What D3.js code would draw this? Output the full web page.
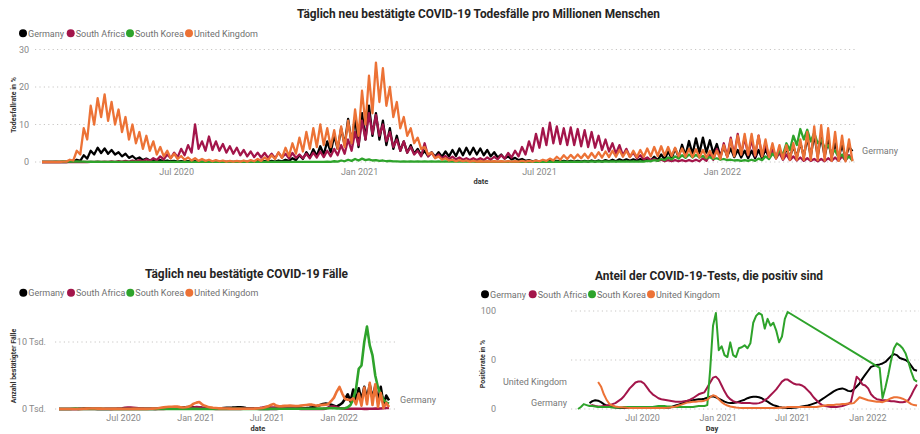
<!DOCTYPE html>
<html><head><meta charset="utf-8">
<script src="https://cdn.jsdelivr.net/npm/d3@7"></script>
<style>body{margin:0;background:#fff}svg{display:block}</style>
</head><body><svg id="c" width="920" height="434"></svg>
<script>
const countries = ["Germany", "South Africa", "South Korea", "United Kingdom"];
const countryColors = ["#000000", "#A3154A", "#2EA32B", "#EC7236"];
const xTickDates = ["2020-07-01", "2021-01-01", "2021-07-01", "2022-01-01"];
const xTickLabels = ["Jul 2020", "Jan 2021", "Jul 2021", "Jan 2022"];

// ---- Chart 1: deaths per million; points every 3.5 days (weekly peak / trough) ----
const deathsTitle = "Täglich neu bestätigte COVID-19 Todesfälle pro Millionen Menschen";
const deathsStart = "2020-02-17";
const deathsGermany = [
0,0, 0,0, 0,0, 0,0, 0.1,0.05, 0.6,0.3, 1.8,0.9, 3,2, 3.8,2.4, 3.6,2.2,
3.2,2, 2.6,1.5, 2.2,1.1, 1.6,0.8, 1.2,0.5, 0.9,0.4, 0.6,0.3, 0.5,0.2, 0.4,0.2, 0.3,0.1,
0.2,0.1, 0.2,0.1, 0.2,0.05, 0.1,0.05, 0.1,0.05, 0.1,0.05, 0.1,0.05, 0.1,0.05, 0.1,0.05, 0.1,0.05,
0.15,0.05, 0.2,0.1, 0.2,0.1, 0.3,0.1, 0.4,0.2, 0.6,0.3, 1,0.5, 1.8,0.8, 2.6,1.2, 3.4,1.6,
4.2,2, 5.5,2.6, 7,3.5, 9,4.5, 11.5,5, 11.8,4, 13,6, 15,7, 13,6, 11,4.5,
9,3.5, 7,3, 5.5,2.5, 4.5,2.2, 3.5,1.8, 3,1.6, 2.6,1.4, 2.6,1.4, 2.8,1.5, 3.2,1.6,
3.6,1.8, 3.8,2, 3.8,2, 3.6,1.8, 3.2,1.5, 2.6,1.2, 2,0.9, 1.5,0.7, 1.1,0.5, 0.8,0.3,
0.5,0.2, 0.4,0.1, 0.3,0.1, 0.3,0.1, 0.3,0.1, 0.3,0.1, 0.3,0.1, 0.3,0.1, 0.3,0.1, 0.4,0.1,
0.4,0.1, 0.5,0.2, 0.6,0.2, 0.7,0.3, 0.7,0.3, 0.7,0.3, 0.8,0.3, 1,0.4, 1.4,0.5, 2,0.7,
2.8,1, 3.6,1.3, 4.6,1.7, 5.6,2.1, 6.3,2.4, 6.5,2.5, 5.8,2.2, 4.8,1.6, 4,1.5, 3.6,1.3,
3.2,1.2, 3,1, 3,1, 3.2,1, 3.5,1.1, 3.6,1.2, 3.4,1.1, 3.6,1.2, 4.2,1.3, 5.2,1.4,
6.5,1.5, 7.4,1.6, 6.8,1.5, 5.8,1.3, 5,1.2, 4.5,1.2, 4,2.9];
const deathsSouthAfrica = [
0,0, 0,0, 0,0, 0,0, 0,0, 0,0, 0.05,0, 0.05,0.02, 0.1,0.05, 0.1,0.05,
0.15,0.05, 0.2,0.1, 0.3,0.1, 0.4,0.2, 0.5,0.2, 0.7,0.3, 1,0.5, 1.5,0.7, 2,1, 2.5,1.3,
3.5,1.8, 4.5,2.5, 10,3.5, 5.5,3, 6.8,3.2, 5.5,3, 4.8,2.5, 4.2,2.2, 3.8,1.8, 3.2,1.5,
2.8,1.3, 2.5,1.2, 2.4,1.1, 2.2,1, 2.5,1.2, 2.2,1, 2.4,1.1, 2,1, 2.2,1, 2.5,1.2,
2.8,1.3, 3,1.5, 3.5,1.8, 4.5,2.2, 6,3, 8,4.5, 11,6, 13,7.5, 12.5,7, 10,5.5,
8,4, 6,3, 5.5,2.5, 4,2, 3,1.5, 5,1.5, 2.5,1.2, 2,1, 1.6,0.8, 1.4,0.7,
1.2,0.6, 1,0.5, 1,0.5, 1,0.5, 1.2,0.6, 1.4,0.7, 1.8,0.9, 2.4,1.2, 3,1.5, 4,2,
5.5,2.8, 7.5,3.8, 9,4.5, 10.5,5, 9.5,4.8, 9,4.5, 9.2,4.5, 8.8,4.2, 8.5,4, 8,3.8,
7,3.2, 6,2.8, 5,2.2, 4.5,1.8, 3.5,1.4, 2.5,1, 1.8,0.7, 1.2,0.5, 0.8,0.3, 0.6,0.2,
0.5,0.2, 0.5,0.2, 0.5,0.2, 0.5,0.2, 0.6,0.2, 1,0.3, 2,0.6, 3.5,1, 5,1.5, 6.5,1.8,
7.5,2, 6.5,1.8, 6,1.5, 7,1.5, 5,1.2, 3.5,0.9, 2.5,0.6, 2,0.5, 1.5,0.4, 1.2,0.3,
1,0.3, 0.8,0.2, 0.8,0.2, 1,0.3, 1.2,0.3, 1.5,0.4, 1.8,0.5];
const deathsSouthKorea = [
0.02,0.01, 0.05,0.02, 0.1,0.05, 0.15,0.08, 0.15,0.08, 0.15,0.08, 0.12,0.06, 0.1,0.05, 0.08,0.04, 0.06,0.03,
0.04,0.02, 0.04,0.02, 0.04,0.02, 0.04,0.02, 0.04,0.02, 0.04,0.02, 0.04,0.02, 0.04,0.02, 0.04,0.02, 0.04,0.02,
0.04,0.02, 0.04,0.02, 0.04,0.02, 0.04,0.02, 0.04,0.02, 0.04,0.02, 0.04,0.02, 0.04,0.02, 0.04,0.02, 0.04,0.02,
0.04,0.02, 0.05,0.02, 0.05,0.03, 0.05,0.03, 0.05,0.03, 0.05,0.03, 0.05,0.03, 0.05,0.03, 0.05,0.03, 0.05,0.03,
0.05,0.03, 0.1,0.05, 0.2,0.1, 0.4,0.2, 0.6,0.3, 0.8,0.4, 0.9,0.5, 0.7,0.4, 0.5,0.3, 0.4,0.2,
0.3,0.15, 0.15,0.08, 0.15,0.08, 0.15,0.08, 0.15,0.08, 0.15,0.08, 0.15,0.08, 0.15,0.08, 0.15,0.08, 0.15,0.08,
0.15,0.08, 0.15,0.08, 0.1,0.05, 0.1,0.05, 0.1,0.05, 0.1,0.05, 0.1,0.05, 0.1,0.05, 0.1,0.05, 0.1,0.05,
0.1,0.05, 0.1,0.05, 0.1,0.05, 0.1,0.05, 0.1,0.05, 0.1,0.05, 0.1,0.05, 0.1,0.05, 0.15,0.08, 0.15,0.08,
0.15,0.08, 0.15,0.08, 0.15,0.08, 0.15,0.08, 0.15,0.08, 0.15,0.08, 0.15,0.08, 0.3,0.2, 0.5,0.3, 0.8,0.5,
1.2,0.7, 1.5,0.9, 1.8,1.1, 2,1.2, 1.9,1.2, 1.6,1, 1.3,0.8, 1,0.6, 0.8,0.5, 0.6,0.4,
0.5,0.3, 0.5,0.3, 0.6,0.3, 0.9,0.5, 1.5,0.8, 2.2,1.2, 3.2,2, 5,3.2, 7,4.5, 8.8,6,
8.6,5.5, 7.8,5, 6,3.8, 4.5,2.5, 3,1.2, 2,0.6, 1.5,0.3];
const deathsUnitedKingdom = [
0,0, 0,0, 0,0, 0.1,0.1, 0.6,0.4, 3,2, 9,6, 15,10, 17,12, 18,11,
16,10, 14,8, 12,6, 10,5, 8,3.5, 7,3, 5.5,2, 4,1.5, 3,1, 2.2,0.8,
1.6,0.6, 1.2,0.4, 1,0.3, 0.8,0.3, 0.6,0.2, 0.5,0.2, 0.4,0.1, 0.3,0.1, 0.3,0.1, 0.4,0.1,
0.5,0.2, 0.8,0.3, 1.2,0.5, 1.8,0.8, 2.6,1.1, 3.8,1.6, 5,2.2, 6.5,2.8, 8,3.5, 9,4,
10,4.5, 9,4, 8.5,3.5, 9.5,4, 11,5, 14,7, 19,10, 23,13, 26.5,16, 25,15,
20,12, 16,9, 12,7, 9,5, 6.5,3.5, 4,2, 2.5,1, 1.5,0.6, 1,0.4, 0.6,0.2,
0.5,0.2, 0.4,0.1, 0.3,0.1, 0.2,0.1, 0.2,0.1, 0.2,0.1, 0.2,0.1, 0.2,0.1, 0.2,0.1, 0.3,0.1,
0.3,0.1, 0.4,0.2, 0.6,0.3, 0.9,0.4, 1.4,0.6, 1.8,0.8, 1.9,0.9, 2,1, 2.2,1, 2.4,1.1,
2.6,1.2, 2.8,1.3, 3,1.4, 3.2,1.4, 3,1.3, 3,1.3, 3.2,1.4, 3.6,1.5, 4,1.6, 4.2,1.7,
4,1.6, 3.8,1.5, 3.6,1.4, 3.5,1.3, 3.4,1.2, 3.2,1.2, 3,1.1, 3,0.8, 4.5,1.2, 6,1.5,
7,2, 7.5,2, 7.5,1.8, 7,1.5, 6,1.3, 5,1, 4.5,0.8, 4.5,0.6, 5,0.6, 6,0.6,
8,0.5, 9.5,0.5, 9.8,0.4, 9,0.3, 8,0.3, 7,0.2, 6,0.2];
const deathsYTicks = [0, 10, 20, 30];
const deathsYTickLabels = ["0", "10", "20", "30"];

// ---- Chart 2: new cases per million, weekly points ----
const casesTitle = "Täglich neu bestätigte COVID-19 Fälle";
const casesStart = "2020-01-20";
const casesGermany = [
0,0,0,0,0,1,3,12,45,65,
70,60,45,30,20,14,10,8,7,6,
5,6,5,5,5,6,7,9,12,14,
16,15,15,17,20,22,30,45,70,120,
180,210,230,220,210,230,270,300,290,250,
240,220,180,150,120,100,90,95,100,110,
140,170,190,200,230,250,240,210,160,120,
80,50,30,15,10,8,9,12,18,22,
30,45,60,80,100,110,110,100,90,100,
130,180,240,330,450,600,750,800,750,650,
500,350,600,900,1500,2200,1100,2900,1300,3100,
1300,3300,1600,3600,1600,3400,1200,3300,700,2000,
1300];
const casesSouthAfrica = [
0,0,0,0,0,0,0,0,1,3,
3,2,2,3,4,6,9,12,15,20,
35,50,80,120,170,200,210,190,150,110,
70,50,40,35,30,25,25,25,25,28,
30,30,35,40,50,60,90,140,180,230,
280,260,200,130,80,50,30,25,22,20,
20,20,20,20,20,20,25,30,40,50,
60,80,120,160,220,300,330,260,220,200,
190,200,180,150,130,100,70,40,25,15,
10,8,6,5,5,6,15,60,250,350,
380,250,150,90,60,50,45,40,40,35,
30,25,25,30,40,50,60,80,120,150,
150];
const casesSouthKorea = [
0,0,0,0,1,40,70,25,8,6,
5,3,2,1,1,1,1,2,2,1,
1,1,1,1,1,1,1,1,1,2,
5,6,5,3,2,2,2,2,2,2,
2,2,3,4,6,9,11,17,20,19,
15,10,9,8,8,8,8,8,8,8,
9,10,10,12,13,13,12,11,11,10,
11,11,10,11,14,20,25,30,32,33,
31,32,35,35,35,35,40,45,50,45,
35,30,30,40,50,60,65,80,110,130,
120,90,75,80,120,250,600,1500,3000,6000,
6500,10000,12300,9500,8000,5000,3200,2200,1400,1000,
800];
const casesUnitedKingdom = [
0,0,0,0,0,0,1,4,12,35,
60,70,72,68,62,52,45,38,30,25,
20,15,12,10,10,10,10,12,13,15,
17,18,25,40,60,80,120,180,240,300,
330,340,370,350,280,230,260,330,500,800,
950,1050,700,480,340,240,180,150,100,90,
80,70,60,45,40,40,35,35,35,40,
45,55,80,110,150,250,400,600,750,500,
420,430,460,480,500,480,440,450,500,550,
600,650,650,550,500,580,620,650,750,1200,
1700,2600,3300,2300,1500,1400,1300,1600,700,2300,
500,3200,700,3900,600,3700,300,2400,150,900,
300];
const casesYTicks = [0, 10000];
const casesYTickLabels = ["0 Tsd.", "10 Tsd."];

// ---- Chart 3: share of positive tests (%), weekly points ----
const positivityTitle = "Anteil der COVID-19-Tests, die positiv sind";
const positivityStart = "2020-01-27";
const positivityGermany = [
null,null,null,null,6,8,9,8.5,7,5,
3.5,2.5,2,1.5,1.2,1,1,1,1,1,
1,1,1,1,1,1,1,1,1,1,
1,1.2,1.5,2.5,3.5,4.5,5.5,6.5,7.5,8.5,
9,9.5,10,10,10.5,11.5,12.5,13,12,10.5,
9,7.5,6.5,6,6,6.5,7.5,8.5,9.5,11,
12,12.5,12.5,12,11,9,7.5,5.5,4,3,
2,1.5,1.2,1,1,1.2,1.5,2,2.5,3,
3.5,4.5,5.5,6.5,8,10,12,14,16,18,
19.5,20.5,21,20,18.5,18,20,23,26,31,
35,39,43,44,45,45.5,46.5,48,51,54,
56,55,52,51,50,48,44,40,39];
const positivitySouthAfrica = [
null,null,null,null,3,4,3,2.5,2.5,3,
3.5,4,5,6,8,10,13,17,21,24,
27,28,28,26,22,18,15,13,11,10,
9.5,9,8.5,8,7.5,7.5,7.5,8,8.5,9.5,
11,13,15,16,17,22,27,32,33,30,
24,18,13,10,8,7,6.5,6,6,6,
6,5.5,5.5,6,7,9,11,14,17,20,
24,28,30,30,28,26,25,25,24,22,
19,16,12,9,6,4,3,2.5,2,2,
2,2.5,3,4,5,7,20,33,30,25,
24,21,15,12,10,9.5,9,9,8.5,8,
8,7.5,7,7,7.5,9,14,20,25];
const positivitySouthKorea = [
0,2,5,4,3,3,2.5,2,2,2,
2,2,1.5,1.5,1.5,1.5,2,2,2,2,
2,2,2,2,2,2,2,2.5,3,3,
3,2.5,2.5,2,2,2,2,2,2,2,
2,2.5,3,3,3,4,40,85,98,60,
64,55,53,68,55,53,62,63,65,62,
67,88,95,98,96,82,92,85,88,80,
68,74,92,99,null,null,null,null,null,null,
null,null,null,null,null,null,null,null,null,null,
null,null,null,null,null,null,null,null,null,null,
null,null,null,null,null,42,11,22,35,50,
62,67,65,62,57,48,38,30,28];
const positivityUnitedKingdom = [
null,null,null,null,null,null,null,27.5,23,15,
9,5,3.5,2.5,2,1.8,1.5,1.2,1,1,
1,1,1,1,1,1,1,1,1,1,
1,1.2,1.5,2,2.5,3.5,4.5,5.5,6.5,7,
7.5,7.5,8,8,8.5,9.5,12,14,13,10,
7,5,3.5,2.5,2,1.5,1.2,1,1,1,
1,1,1,1,1,1,1,1,1,1,
1.2,1.5,1.5,2,2,2,2,2,2,2,
2,2,2,2,2.5,3,3.5,4,4,4,
4.5,4.5,5,5,5.5,5.5,6,9,12,11,
10,9,8.5,8,7.5,7.5,7,8,9.5,11,
12,12,11.5,10.5,9,7,5,4,3.5];
const positivityYTicks = [0, 50, 100];
const positivityYTickLabels = ["0", "0", "100"];

// ------------------------------------------------------------------
const FONT = "Roboto, 'Open Sans', Arial, sans-serif";
const svg = d3.select("#c");
const DAY = 864e5;

function makeSeries(start, values, stepDays) {
  const t0 = new Date(start).getTime();
  return values.map((v, k) => ({ date: new Date(t0 + k * stepDays * DAY), v }))
               .filter(d => d.v !== null);
}

function legend(x0, y) {
  const offsets = [0, 47.7, 107, 166];
  const g = svg.append("g").attr("font-family", FONT).attr("font-size", 9);
  countries.forEach((c, i) => {
    g.append("circle").attr("cx", x0 + offsets[i]).attr("cy", y).attr("r", 4).attr("fill", countryColors[i]);
    g.append("text").attr("x", x0 + offsets[i] + 5).attr("y", y + 3.2).attr("fill", "#707070").text(c);
  });
}

function panel(p) {
  const g = svg.append("g");
  const x = d3.scaleUtc().domain(p.xDomain.map(d => new Date(d))).range(p.xRange);
  const y = d3.scaleLinear().domain(p.yDomain).range(p.yRange);

  g.append("text").attr("x", p.titleX).attr("y", p.titleY).attr("text-anchor", "middle")
    .attr("font-family", FONT).attr("font-weight", 700).attr("font-size", 12).attr("fill", "#252423")
    .attr("textLength", p.titleLen).attr("lengthAdjust", "spacingAndGlyphs").text(p.title);
  legend(p.legendX, p.legendY);

  g.append("g").selectAll("line").data(p.yTicks).join("line")
    .attr("x1", p.gridX[0]).attr("x2", p.gridX[1])
    .attr("y1", d => y(d)).attr("y2", d => y(d))
    .attr("stroke", "#C8C6C4").attr("stroke-width", 1).attr("stroke-dasharray", "1.2,3.2");

  const ya = d3.axisLeft(y).tickValues(p.yTicks).tickFormat((d, i) => p.yTickLabels[i]).tickSize(0).tickPadding(0);
  g.append("g").attr("transform", `translate(${p.yAxisX},0)`).call(ya)
    .attr("font-family", FONT).attr("font-size", 9)
    .call(s => s.select(".domain").remove())
    .selectAll("text").attr("fill", "#888");
  const xa = d3.axisBottom(x).tickValues(xTickDates.map(d => new Date(d)))
    .tickFormat((d, i) => xTickLabels[i]).tickSize(0).tickPadding(p.xPad);
  g.append("g").attr("transform", `translate(0,${p.yRange[0]})`).call(xa)
    .attr("font-family", FONT).attr("font-size", 9)
    .call(s => s.select(".domain").remove())
    .selectAll("text").attr("fill", "#888");

  g.append("text").attr("transform", `translate(${p.yTitleX},${p.yTitleY}) rotate(-90)`)
    .attr("text-anchor", "middle").attr("font-family", FONT).attr("font-weight", 700)
    .attr("font-size", 7).attr("fill", "#333").text(p.yTitle);
  g.append("text").attr("x", p.xTitleX).attr("y", p.xTitleY).attr("text-anchor", "middle")
    .attr("font-family", FONT).attr("font-weight", 700).attr("font-size", 7.5).attr("fill", "#333").text(p.xTitle);

  const line = d3.line().x(d => x(d.date)).y(d => y(d.v));
  p.series.forEach((vals, i) => {
    g.append("path").datum(makeSeries(p.start, vals, p.step))
      .attr("d", line).attr("fill", "none").attr("stroke", countryColors[i])
      .attr("stroke-width", p.lw).attr("stroke-linejoin", "round");
  });

  p.labels.forEach(l => {
    const s = makeSeries(p.start, p.series[l.idx], p.step);
    const pt = l.at === "end" ? s[s.length - 1] : s[0];
    g.append("text").attr("x", l.at === "end" ? p.xRange[1] + l.dx : p.labelX)
      .attr("y", y(pt.v) + 3.2).attr("text-anchor", l.at === "end" ? "start" : "end")
      .attr("font-family", FONT).attr("font-size", 9).attr("fill", "#777").text(countries[l.idx]);
  });
}

panel({
  title: deathsTitle, titleX: 478.5, titleY: 18, titleLen: 363,
  legendX: 23, legendY: 33.3,
  xDomain: ["2020-02-17", "2022-05-12"], xRange: [42, 852],
  yDomain: [0, 30], yRange: [162, 49.5],
  yTicks: deathsYTicks, yTickLabels: deathsYTickLabels, yAxisX: 29,
  gridX: [35, 857], xPad: 6.5,
  yTitle: "Todesfallrate in %", yTitleX: 16, yTitleY: 105,
  xTitle: "date", xTitleX: 481, xTitleY: 184,
  start: deathsStart, step: 3.5, lw: 2.3,
  series: [deathsGermany, deathsSouthAfrica, deathsSouthKorea, deathsUnitedKingdom],
  labels: [{ idx: 0, at: "end", dx: 10 }]
});

panel({
  title: casesTitle, titleX: 246.5, titleY: 277.5, titleLen: 203,
  legendX: 23.3, legendY: 292.7,
  xDomain: ["2020-01-20", "2022-05-09"], xRange: [59, 389],
  yDomain: [0, 10000], yRange: [409, 342],
  yTicks: casesYTicks, yTickLabels: casesYTickLabels, yAxisX: 46,
  gridX: [55, 397], xPad: 5.8,
  yTitle: "Anzahl bestätigter Fälle", yTitleX: 16, yTitleY: 366,
  xTitle: "date", xTitleX: 258, xTitleY: 431,
  start: casesStart, step: 7, lw: 2.6,
  series: [casesGermany, casesSouthAfrica, casesSouthKorea, casesUnitedKingdom],
  labels: [{ idx: 0, at: "end", dx: 11 }]
});

panel({
  title: positivityTitle, titleX: 709, titleY: 280, titleLen: 228,
  legendX: 485, legendY: 294.3,
  xDomain: ["2020-01-27", "2022-05-02"], xRange: [578, 917],
  yDomain: [0, 100], yRange: [409, 311],
  yTicks: positivityYTicks, yTickLabels: positivityYTickLabels, yAxisX: 496,
  gridX: [571, 919], xPad: 5.8,
  yTitle: "Positivrate in %", yTitleX: 485, yTitleY: 364,
  xTitle: "Day", xTitleX: 712, xTitleY: 431,
  start: positivityStart, step: 7, lw: 2, labelX: 567,
  series: [positivityGermany, positivitySouthAfrica, positivitySouthKorea, positivityUnitedKingdom],
  labels: [{ idx: 3, at: "start" }, { idx: 0, at: "start" }]
});
</script>
</body></html>
